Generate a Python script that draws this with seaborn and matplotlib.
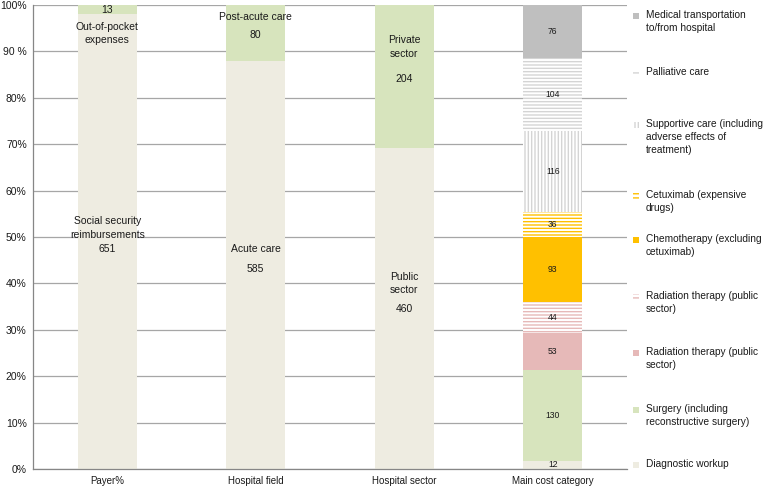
import pandas as pd
import seaborn as sns
import matplotlib.pyplot as plt
from matplotlib.patches import Rectangle

sns.set_style("white")
plt.rcParams['font.family'] = ['Liberation Sans', 'DejaVu Sans']
plt.rcParams['hatch.linewidth'] = 1.0

# data
categories = ["Payer%", "Hospital field", "Hospital sector", "Main cost category"]

payer_labels = ["Social security\nreimbursements", "Out-of-pocket\nexpenses"]
payer_values = [651, 13]

field_labels = ["Acute care", "Post-acute care"]
field_values = [585, 80]

sector_labels = ["Public\nsector", "Private\nsector"]
sector_values = [460, 204]

# main cost categories, bottom to top
cost_labels = ["Diagnostic workup",
               "Surgery (including\nreconstructive surgery)",
               "Radiation therapy (public\nsector)",
               "Radiation therapy (public\nsector)",
               "Chemotherapy (excluding\ncetuximab)",
               "Cetuximab (expensive\ndrugs)",
               "Supportive care (including\nadverse effects of\ntreatment)",
               "Palliative care",
               "Medical transportation\nto/from hospital"]
cost_values = [12, 130, 53, 44, 93, 36, 116, 104, 76]

# styles: (face, hatch colour, hatch)
BEIGE = ("#EEECE1", None, None)
GREEN = ("#D7E4BD", None, None)
cost_styles = [BEIGE, GREEN,
               ("#E6B9B8", None, None),
               ("white", "#E6B9B8", "-----"),
               ("#FFC000", None, None),
               ("white", "#FFC000", "-----"),
               ("white", "#D4D4D4", "|||||"),
               ("white", "#D4D4D4", "-----"),
               ("#BFBFBF", None, None)]

columns = [
    (payer_labels, payer_values, [BEIGE, GREEN]),
    (field_labels, field_values, [BEIGE, GREEN]),
    (sector_labels, sector_values, [BEIGE, GREEN]),
    (cost_labels, cost_values, cost_styles),
]

rows = []
for ci, (labs, vals, styles) in enumerate(columns):
    total = sum(vals)
    cum = 0
    for lab, v, st in zip(labs, vals, styles):
        pct = v / total * 100
        rows.append(dict(cat=categories[ci], col=ci, label=lab, value=v,
                         bottom=cum, top=cum + pct, face=st[0],
                         hcol=st[1], hatch=st[2]))
        cum += pct
seg = pd.DataFrame(rows)

fig = plt.figure(figsize=(7.67, 4.92), dpi=100)
ax = fig.add_axes([33 / 767, 23 / 492, 594 / 767, 464 / 492])

# stacked bars: draw full-height bars from tallest to shortest
for _, r in seg.sort_values("top", ascending=False, kind="stable").iterrows():
    n0 = len(ax.patches)
    sns.barplot(x=[r["cat"]], y=[r["top"]], order=categories, color=r["face"],
                saturation=1, width=0.4, errorbar=None, ax=ax, linewidth=0)
    for p in ax.patches[n0:]:
        p.set_linewidth(0)
        if r["hatch"]:
            p.set_hatch(r["hatch"])
            p.set_edgecolor(r["hcol"])

# bar labels for the first three columns (name, number offsets in %)
label_offsets = {0: [(2.9, -1.6), (-5.2, -0.2)],
                 1: [(3.4, -0.9), (3.4, -0.5)],
                 2: [(5.4, -0.1), (6.3, -0.6)]}
txt_col = "#1a1a1a"
for ci in range(3):
    part = seg[seg["col"] == ci].reset_index(drop=True)
    for i, r in part.iterrows():
        mid = (r["bottom"] + r["top"]) / 2
        dn, dv = label_offsets[ci][i]
        ax.text(ci, mid + dn, r["label"], ha="center", va="center",
                fontsize=7.5, color=txt_col, linespacing=1.4)
        ax.text(ci, mid + dv, str(r["value"]), ha="center", va="center",
                fontsize=7.5, color=txt_col)

part = seg[seg["col"] == 3]
for _, r in part.iterrows():
    mid = (r["bottom"] + r["top"]) / 2
    ax.text(3, mid, str(r["value"]), ha="center", va="center",
            fontsize=6.2, color=txt_col)

# axes styling
ax.set_xlim(-0.5, 3.5)
ax.set_ylim(0, 100)
ax.set_yticks(range(0, 101, 10))
ax.set_yticklabels([f"{t}%" if t != 90 else "90 %" for t in range(0, 101, 10)])
ax.set_xticks(range(4))
ax.set_xticklabels(categories)
ax.set_xticks([-0.5, 0.5, 1.5, 2.5, 3.5], minor=True)
ax.tick_params(axis="x", which="major", length=0, labelsize=7, pad=5,
               labelcolor=txt_col)
ax.tick_params(axis="x", which="minor", length=4, color="#868686", width=0.8)
ax.tick_params(axis="y", length=3, color="#868686", width=0.8, labelsize=7.5,
               labelcolor=txt_col, pad=1.5)
ax.set_xlabel("")
ax.set_ylabel("")
ax.set_axisbelow(True)
ax.yaxis.grid(True, color="#A6A6A6", linewidth=0.9)
ax.xaxis.grid(False)
for s in ["top", "right"]:
    ax.spines[s].set_visible(False)
for s in ["left", "bottom"]:
    ax.spines[s].set_color("#868686")
    ax.spines[s].set_linewidth(0.9)

# legend (top to bottom), drawn manually to keep the marker on the first line
legend_y = [16, 73, 125, 196, 240, 297, 353, 410, 465]
W, H = 767, 492
for lab, st, yc in zip(cost_labels[::-1], cost_styles[::-1], legend_y):
    face, hcol, hatch = st
    if hatch == "-----":
        hatch = "----"
    rect = Rectangle((633 / W, (H - yc - 3) / H), 6 / W, 6 / H,
                     transform=fig.transFigure, facecolor=face,
                     edgecolor=hcol if hcol else face, linewidth=0,
                     hatch=hatch)
    fig.add_artist(rect)
    fig.text(646 / W, (H - yc + 6) / H, lab, ha="left", va="top",
             fontsize=7.3, color=txt_col, linespacing=1.4)

fig.savefig("out.png", dpi=100)
